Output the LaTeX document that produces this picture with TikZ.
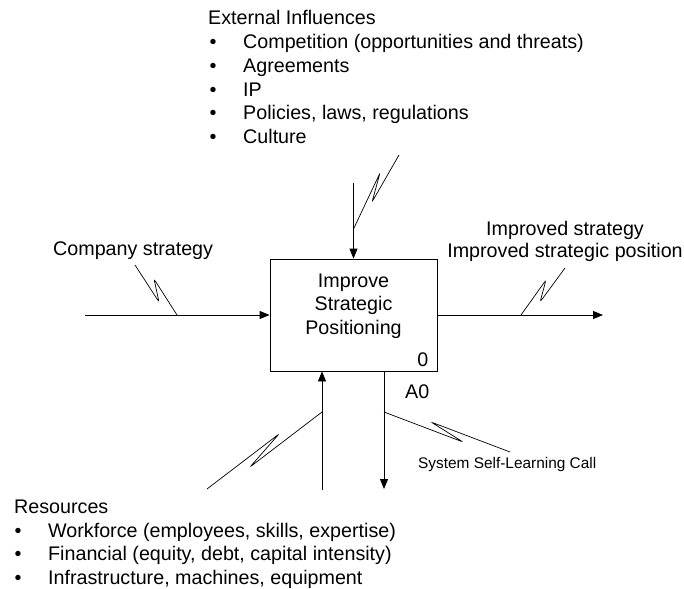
\documentclass[tikz,border=0pt]{standalone}
\usepackage{fontspec}
\setmainfont{Liberation Sans}
\usetikzlibrary{arrows.meta}
\begin{document}
\begin{tikzpicture}[x=1pt,y=-1pt,font=\fontsize{19.7}{23.7}\selectfont,
  txt/.style={inner sep=0pt,anchor=base west},
  ctxt/.style={inner sep=0pt,anchor=base},
  arr/.style={line width=0.8pt,-{Triangle[length=10pt,width=8pt]}},
  sq/.style={line width=0.7pt,rounded corners=2.5pt}]
\useasboundingbox (0,0) rectangle (684,588);

% box
\node[draw,line width=0.8pt,minimum width=167pt,minimum height=112pt,inner sep=0pt] (box) at (353.5,315) {};
\node[ctxt] (bl1) at (353.5,287) {Improve};
\node[ctxt] (bl2) at (353.5,310.5) {Strategic};
\node[ctxt] (bl3) at (353.5,334) {Positioning};
\node[inner sep=0pt,anchor=base east] (num) at (428.5,366) {0};
\node[inner sep=0pt,anchor=base west] (a0) at (405,398) {A0};

% external influences
\node[txt] (ext0) at (208,25) {External Influences};
\node[txt] (ext1b) at (209.5,48.7) {•};
\node[txt] (ext1) at (243,48.7) {Competition (opportunities and threats)};
\node[txt] (ext2b) at (209.5,72.4) {•};
\node[txt] (ext2) at (243,72.4) {Agreements};
\node[txt] (ext3b) at (209.5,96.1) {•};
\node[txt] (ext3) at (243,96.1) {IP};
\node[txt] (ext4b) at (209.5,119.8) {•};
\node[txt] (ext4) at (243,119.8) {Policies, laws, regulations};
\node[txt] (ext5b) at (209.5,143.5) {•};
\node[txt] (ext5) at (243,143.5) {Culture};

% resources
\node[txt] (res0) at (14,513) {Resources};
\node[txt] (res1b) at (14.5,537) {•};
\node[txt] (res1) at (48,537) {Workforce (employees, skills, expertise)};
\node[txt] (res2b) at (14.5,560.5) {•};
\node[txt] (res2) at (48,560.5) {Financial (equity, debt, capital intensity)};
\node[txt] (res3b) at (14.5,584) {•};
\node[txt] (res3) at (48,584) {Infrastructure, machines, equipment};

% labels
\node[txt] (cs) at (53,255) {Company strategy};
\node[ctxt] (out1) at (565,235) {Improved strategy};
\node[ctxt] (out2) at (565,257) {Improved strategic position};
\node[txt,font=\fontsize{15.4}{18}\selectfont] (call) at (418,468.5) {System Self-Learning Call};

% arrows
\coordinate (inS) at (85,315);
\draw[arr] (inS) -- (box.west);
\coordinate (ctlS) at (353.5,183);
\draw[arr] (ctlS) -- (box.north);
\coordinate (outE) at (603,315);
\draw[arr] (box.east) -- (outE);
\coordinate (mechS) at (322,490);
\draw[arr] (mechS) -- (mechS |- box.south);
\coordinate (callE) at (384,489);
\draw[arr] (callE |- box.south) -- (callE);

% squiggles
\draw[sq] (135,265) -- (159,302) -- (154,279) -- (177,315);
\draw[sq] (353.5,229) -- (380,173) -- (372,202) -- (399,155);
\draw[sq] (521,315) -- (546,280) -- (540,302) -- (565,268);
\draw[sq] (322,412) -- (250,467) -- (279,434) -- (207,489);
\draw[sq] (384,412) -- (463,442) -- (431,422) -- (510,452);
\end{tikzpicture}
\end{document}
